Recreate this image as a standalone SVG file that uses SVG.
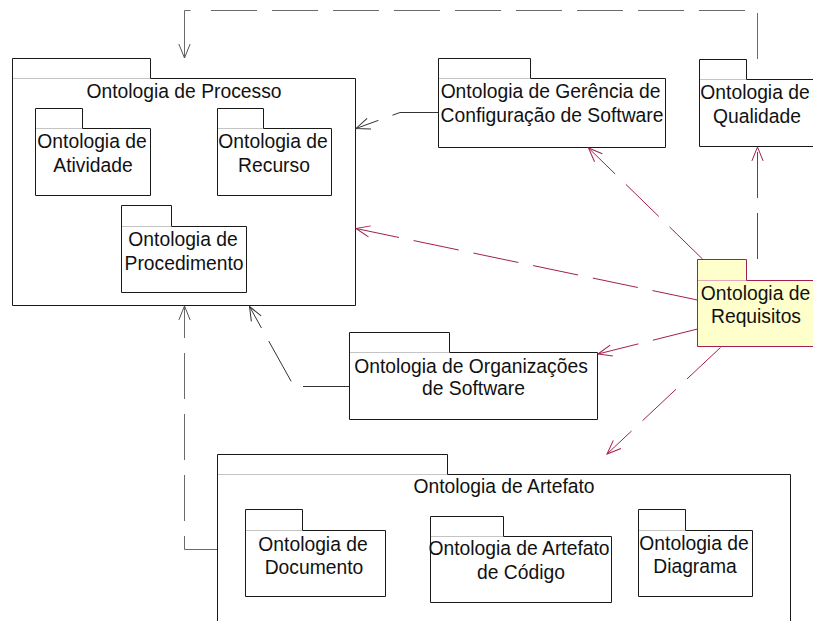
<svg xmlns="http://www.w3.org/2000/svg" width="813" height="621" viewBox="0 0 813 621">
<style>
.pkg{fill:#fff;stroke:#1a1a1a;stroke-width:1}
.sep{stroke:#c4c4c4;stroke-width:1}
.req{fill:#ffffcc;stroke:#a31f52;stroke-width:1}
.reqsep{stroke:#e0a8b8;stroke-width:1}
text{font-family:"Liberation Sans",Arial,sans-serif;font-size:19.3px;fill:#111;text-anchor:middle}
.dep{fill:none;stroke:#333;stroke-width:1;stroke-dasharray:46 15}
.gray{stroke:#6a6a6a}
.solid{fill:none;stroke:#6a6a6a;stroke-width:1}
.crim{fill:none;stroke:#a31f52;stroke-width:1;stroke-dasharray:46 15}
</style>
<defs>
<marker id="ab" markerUnits="userSpaceOnUse" viewBox="-16 -8 18 16" refX="0" refY="0" markerWidth="18" markerHeight="16" orient="auto" overflow="visible">
<path d="M-13.9,-5.6 L0,0 L-13.9,5.6" fill="none" stroke="#333" stroke-width="1"/>
</marker>
<marker id="ag" markerUnits="userSpaceOnUse" viewBox="-16 -8 18 16" refX="0" refY="0" markerWidth="18" markerHeight="16" orient="auto" overflow="visible">
<path d="M-13.9,-5.6 L0,0 L-13.9,5.6" fill="none" stroke="#555" stroke-width="1"/>
</marker>
<marker id="ac" markerUnits="userSpaceOnUse" viewBox="-16 -8 18 16" refX="0" refY="0" markerWidth="18" markerHeight="16" orient="auto" overflow="visible">
<path d="M-13.9,-5.6 L0,0 L-13.9,5.6" fill="none" stroke="#a31f52" stroke-width="1"/>
</marker>
</defs>
<rect width="813" height="621" fill="#fff"/>

<g id="processo">
<path class="pkg" d="M12.5,58.5 H150.5 V78.5 H355.5 V305.5 H12.5 Z"/>
<line class="sep" x1="13" y1="78.5" x2="150" y2="78.5"/>
<text x="184" y="98">Ontologia de Processo</text>
</g>
<g id="atividade">
<path class="pkg" d="M35.5,108.5 H82.5 V128.5 H150.5 V195.5 H35.5 Z"/>
<line class="sep" x1="36" y1="128.5" x2="82" y2="128.5"/>
<text x="92" y="147.5">Ontologia de</text>
<text x="93" y="171.5">Atividade</text>
</g>
<g id="recurso">
<path class="pkg" d="M217.5,108.5 H263.5 V128.5 H331.5 V195.5 H217.5 Z"/>
<line class="sep" x1="218" y1="128.5" x2="263" y2="128.5"/>
<text x="273" y="147.5">Ontologia de</text>
<text x="274" y="171.5">Recurso</text>
</g>
<g id="procedimento">
<path class="pkg" d="M121.5,205.5 H171.5 V226.5 H246.5 V292.5 H121.5 Z"/>
<line class="sep" x1="122" y1="226.5" x2="171" y2="226.5"/>
<text x="183" y="246">Ontologia de</text>
<text x="184" y="269.5">Procedimento</text>
</g>
<g id="gerencia">
<path class="pkg" d="M438.5,58.5 H530.5 V78.5 H665.5 V147.5 H438.5 Z"/>
<line class="sep" x1="439" y1="78.5" x2="530" y2="78.5"/>
<text x="550.5" y="97.5">Ontologia de Gerência de</text>
<text x="552" y="121.5">Configuração de Software</text>
</g>
<g id="qualidade">
<path class="pkg" d="M699.5,59.5 H746.5 V79.5 H816 V146.5 H699.5 Z"/>
<line class="sep" x1="700" y1="79.5" x2="746" y2="79.5"/>
<text x="755" y="99">Ontologia de</text>
<text x="757" y="122.5">Qualidade</text>
</g>
<g id="requisitos">
<path class="req" d="M697.5,259.5 H746.5 V280.5 H816 V346.5 H697.5 Z"/>
<line class="reqsep" x1="698" y1="280.5" x2="746" y2="280.5"/>
<text x="755.5" y="299.5">Ontologia de</text>
<text x="756" y="322.5">Requisitos</text>
</g>
<g id="organizacoes">
<path class="pkg" d="M349.5,332.5 H449.5 V352.5 H597.5 V419.5 H349.5 Z"/>
<line class="sep" x1="350" y1="352.5" x2="449" y2="352.5"/>
<text x="471" y="372.5">Ontologia de Organizações</text>
<text x="473.5" y="395">de Software</text>
</g>
<g id="artefato">
<path class="pkg" d="M217.5,454.5 H447.5 V474.5 H790.5 V630 H217.5 Z"/>
<line class="sep" x1="218" y1="474.5" x2="447" y2="474.5"/>
<text x="504" y="493">Ontologia de Artefato</text>
</g>
<g id="documento">
<path class="pkg" d="M245.5,509.5 H302.5 V530.5 H385.5 V596.5 H245.5 Z"/>
<line class="sep" x1="246" y1="530.5" x2="302" y2="530.5"/>
<text x="313" y="551">Ontologia de</text>
<text x="314" y="574">Documento</text>
</g>
<g id="codigo">
<path class="pkg" d="M430.5,516.5 H503.5 V536.5 H611.5 V602.5 H430.5 Z"/>
<line class="sep" x1="431" y1="536.5" x2="503" y2="536.5"/>
<text x="519" y="555">Ontologia de Artefato</text>
<text x="521" y="578.5">de Código</text>
</g>
<g id="diagrama">
<path class="pkg" d="M638.5,509.5 H685.5 V530.5 H752.5 V596.5 H638.5 Z"/>
<line class="sep" x1="639" y1="530.5" x2="685" y2="530.5"/>
<text x="694" y="550">Ontologia de</text>
<text x="695" y="573">Diagrama</text>
</g>

<g id="connectors">
<path class="dep gray" d="M757.5,59 V10.5 H196"/>
<path class="solid" d="M190.5,10.5 H184.5 V58" marker-end="url(#ag)"/>
<path class="dep" d="M438,112.5 H400 L356,128.5" marker-end="url(#ab)"/>
<path class="dep gray" d="M217,549.5 H184.5 V306" marker-end="url(#ag)"/>
<path class="dep" d="M349,386.5 H294 L249.5,306.5" marker-end="url(#ab)"/>
<path class="crim" d="M702.5,259 L588.5,148" marker-end="url(#ac)"/>
<path class="crim" d="M757.5,259 V147" marker-end="url(#ac)"/>
<path class="crim" d="M697.5,300 L356,228.5" marker-end="url(#ac)"/>
<path class="crim" d="M697.5,329 L598,354" marker-end="url(#ac)"/>
<path class="crim" d="M720.5,347.5 L607,454" marker-end="url(#ac)"/>
</g>
</svg>
